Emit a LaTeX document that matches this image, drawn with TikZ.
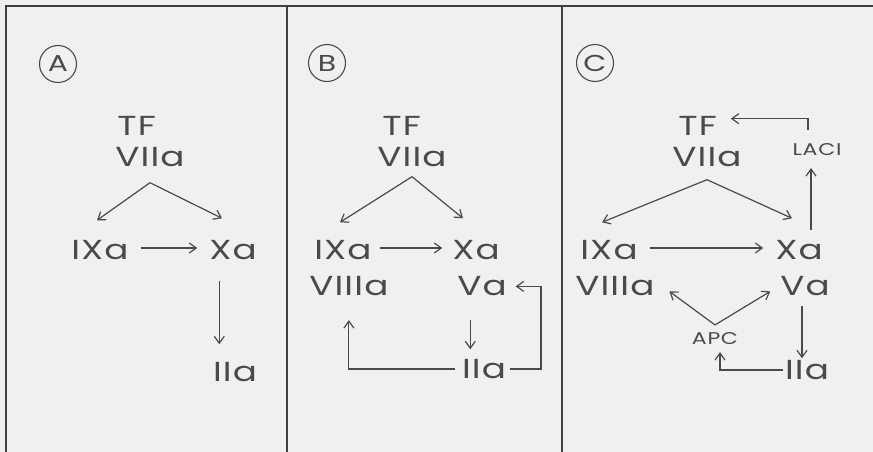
\documentclass[tikz,border=0pt]{standalone}
\usepackage{fontspec}
\setmainfont{Poppins}[FakeStretch=1.3, LetterSpace=4]
\usepackage{tikz}
\usetikzlibrary{shapes, arrows, arrows.meta}
\usetikzlibrary{positioning}
\definecolor{ink}{HTML}{4A4A4A}
\definecolor{paper}{HTML}{F0F0F0}

\begin{document}
\begin{tikzpicture}[x=1pt, y=1pt,
  every node/.style={text=ink, inner sep=0pt, outer sep=0pt},
  fac/.style={font=\fontsize{27.5}{27.5}\selectfont},
  tag/.style={font=\fontsize{17}{17}\selectfont},
  panel/.style={draw=ink, circle, line width=1.1pt, minimum size=37pt, font=\fontsize{23}{23}\selectfont},
  arr/.style={draw=ink, line width=1.2pt, -{Straight Barb[length=7pt,width=10pt]}},
  rule/.style={draw=black!75, line width=1.6pt}]
\useasboundingbox[fill=paper] (0,0) rectangle (873,452);
% frame
\draw[rule] (6,0) -- (6,446) -- (873,446);
\draw[rule] (287,0) -- (287,446);
\draw[rule] (562,0) -- (562,446);

% panel A
\node[panel] (pA) at (58,388) {A};
\node[fac] (viiaA) at (150,295) {VIIa};
\node[fac, anchor=south west] (tfA) at ([xshift=2pt, yshift=12pt]viiaA.north west) {TF};
\node[fac] (ixaA) at (100,202) {IXa};
\node[fac] (xaA) at (233,202) {Xa};
\node[fac] (iiaA) at (235,80) {IIa};
\draw[arr] ([yshift=-16pt]viiaA.south) -- ([xshift=-3pt, yshift=20pt]ixaA.north);
\draw[arr] ([yshift=-16pt]viiaA.south) -- ([xshift=-11pt, yshift=22pt]xaA.north);
\draw[arr, shorten <=12pt, shorten >=12pt] ([yshift=2pt]ixaA.east) -- ([yshift=2pt]xaA.west);
\coordinate (dA) at ([xshift=10pt]xaA.south west);
\draw[arr, shorten <=21pt, shorten >=18pt] (dA) -- (dA |- iiaA.north);

% panel B
\node[panel] (pB) at (327,389) {B};
\node[fac] (viiaB) at (412,295) {VIIa};
\node[fac, anchor=south west] (tfB) at ([xshift=5pt, yshift=12pt]viiaB.north west) {TF};
\node[fac] (ixaB) at (343,202) {IXa};
\node[fac] (xaB) at (476,202) {Xa};
\node[fac, anchor=north west] (viiiaB) at ([xshift=-5pt, yshift=-17pt]ixaB.south west) {VIIIa};
\node[fac, anchor=north west] (vaB) at ([xshift=5pt, yshift=-17pt]xaB.south west) {Va};
\node[fac] (iiaB) at (484,83) {IIa};
\draw[arr] ([yshift=-10pt]viiaB.south) -- ([xshift=-3pt, yshift=18pt]ixaB.north);
\draw[arr] ([yshift=-10pt]viiaB.south) -- ([xshift=-13pt, yshift=22pt]xaB.north);
\draw[arr, shorten <=8pt, shorten >=10pt] ([yshift=2pt]ixaB.east) -- ([yshift=2pt]xaB.west);
\coordinate (dB) at ([xshift=13pt]vaB.south west);
\draw[arr, shorten <=24pt, shorten >=10pt] (dB) -- (dB |- iiaB.north);
\draw[arr, shorten <=4pt, shorten >=9pt] (iiaB.east) -- ++(35pt,0) |- (vaB.east);
\draw[arr, shorten <=7pt, shorten >=24pt] (iiaB.west) -| (viiiaB.south);

% panel C
\node[panel] (pC) at (595,389) {C};
\node[fac] (viiaC) at (707,295) {VIIa};
\node[fac, anchor=south west] (tfC) at ([xshift=6pt, yshift=12pt]viiaC.north west) {TF};
\node[tag] (laciC) at (817,302) {LACI};
\node[fac] (ixaC) at (609,202) {IXa};
\node[fac] (xaC) at (799,202) {Xa};
\node[fac, anchor=north west] (viiiaC) at ([xshift=-5pt, yshift=-17pt]ixaC.south west) {VIIIa};
\node[fac, anchor=north west] (vaC) at ([xshift=5pt, yshift=-17pt]xaC.south west) {Va};
\node[tag] (apcC) at (715,113) {APC};
\node[fac] (iiaC) at (807,82) {IIa};
\draw[arr] ([yshift=-13pt]viiaC.south) -- ([xshift=-7pt, yshift=18pt]ixaC.north);
\draw[arr] ([yshift=-13pt]viiaC.south) -- ([xshift=-7pt, yshift=22pt]xaC.north);
\draw[arr, shorten <=12pt, shorten >=12pt] ([yshift=2pt]ixaC.east) -- ([yshift=2pt]xaC.west);
\coordinate (uC) at ([xshift=12pt]xaC.north);
\draw[arr, shorten <=10pt, shorten >=12pt] (uC) -- (uC |- laciC.south);
\draw[arr, shorten <=14pt, shorten >=14pt] ([xshift=-9pt]laciC.north) |- ([yshift=7pt]tfC.east);
\draw[arr] ([yshift=8pt]apcC.north) -- ([xshift=15pt, yshift=-5pt]viiiaC.east);
\draw[arr] ([yshift=8pt]apcC.north) -- ([xshift=-10pt, yshift=-5pt]vaC.west);
\coordinate (dC) at ([xshift=-3pt]vaC.south);
\draw[arr, shorten <=10pt, shorten >=2pt] (dC) -- (dC |- iiaC.north);
\draw[arr, shorten <=2pt, shorten >=7pt] (iiaC.west) -| ([xshift=5pt]apcC.south);
\end{tikzpicture}
\end{document}
